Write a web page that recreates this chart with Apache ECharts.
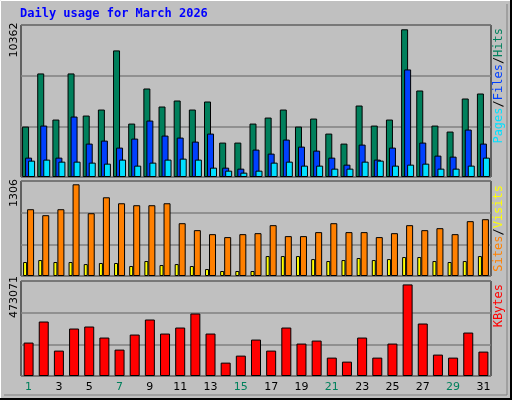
<!DOCTYPE html>
<html><head><meta charset="utf-8">
<script src="https://cdn.jsdelivr.net/npm/echarts@6/dist/echarts.min.js"></script>
<style>html,body{margin:0;padding:0;background:#c0c0c0}#c{width:512px;height:400px}</style>
</head><body><div id="c"></div>
<script>
const days = Array.from({length:31},(_,i)=>String(i+1));
const weekend = ['1','7','8','14','15','21','22','28','29'];
const hits = [3537,7265,4030,7265,4311,4733,8881,3749,6210,4944,5366,4733,5296,2414,2414,3749,4171,4733,3537,4100,3046,2343,5015,3608,4030,10362,6069,3608,3187,5507,5858];
const files = [1359,3608,1359,4241,2343,2554,2062,2695,3960,2906,2765,2484,3046,656,586,1922,1640,2625,2132,1851,1359,867,2273,1219,2062,7546,2414,1500,1429,3328,2343];
const pages = [1148,1219,1077,1077,1008,937,1219,797,1008,1219,1289,1219,656,445,305,445,1008,1077,797,797,586,586,1077,1148,797,867,937,586,586,797,1359];
const visits = [951,866,951,1306,894,1121,1036,1008,1008,1036,752,653,596,554,596,610,724,568,568,625,752,625,625,554,610,724,653,681,596,781,809];
const sites = [199,227,199,199,170,185,185,142,213,156,170,142,99,71,71,71,284,284,284,241,213,227,256,227,241,270,270,213,199,213,284];
const kbytes = [172650,281420,131214,245163,255522,198548,136394,214086,291779,219266,250343,322856,219266,69060,105317,188189,131214,250343,167471,183009,94958,74240,198548,94958,167471,473071,271061,110496,94958,224445,126035];
const maxLabels = ['10362','1306','473071'];

const chart = echarts.init(document.getElementById('c'));
const L=21, R=21;
const grids=[{left:L,right:R,top:25,height:152},{left:L,right:R,top:181,height:95},{left:L,right:R,top:281,height:95}];
const ymax=[10664,1353,490700];
const st={borderColor:'#000',borderWidth:1};
function xa(i){return {type:'category',gridIndex:i,data:days,axisLine:{show:false},axisTick:{show:false},
 axisLabel:{show:i===2,margin:6,fontFamily:'DejaVu Sans',fontSize:11,color:(v)=>weekend.includes(v)?'#00805c':'#000'}};}
function ya(i){return {type:'value',gridIndex:i,min:0,max:ymax[i],interval:ymax[i]/3,axisLabel:{show:false},axisLine:{show:false},axisTick:{show:false},splitLine:{show:true,lineStyle:{color:'#808080',width:1.5}}};}
const rot = (x,y,parts)=>({type:'text',x:x,y:y,rotation:Math.PI/2,style:{text:parts.map(p=>'{'+p[1]+'|'+p[0]+'}').join(''),
  font:'12px DejaVu Sans Mono',align:'right',verticalAlign:'middle',
  rich:{g:{fill:'#00805c',font:'12px DejaVu Sans Mono'},b:{fill:'#0040ff',font:'12px DejaVu Sans Mono'},c:{fill:'#00e0ff',font:'12px DejaVu Sans Mono'},k:{fill:'#000',font:'12px DejaVu Sans Mono'},o:{fill:'#ff8000',font:'12px DejaVu Sans Mono'},y:{fill:'#ffff00',font:'12px DejaVu Sans Mono'},r:{fill:'#ff0000',font:'12px DejaVu Sans Mono'}}}});
chart.setOption({
 backgroundColor:'#c0c0c0', animation:false,
 grid:grids.map(g=>Object.assign({show:true,borderColor:'#000',borderWidth:1,backgroundColor:'transparent'},g)),
 xAxis:[xa(0),xa(1),xa(2)], yAxis:[ya(0),ya(1),ya(2)],
 series:[
  {type:'bar',xAxisIndex:0,yAxisIndex:0,data:hits,barWidth:7,barGap:'-57%',itemStyle:Object.assign({color:'#00805c'},st)},
  {type:'bar',xAxisIndex:0,yAxisIndex:0,data:files,barWidth:7,barGap:'-57%',itemStyle:Object.assign({color:'#0040ff'},st)},
  {type:'bar',xAxisIndex:0,yAxisIndex:0,data:pages,barWidth:7,barGap:'-57%',itemStyle:Object.assign({color:'#00e0ff'},st)},
  {type:'bar',xAxisIndex:1,yAxisIndex:1,data:sites,barWidth:4,barGap:'0%',itemStyle:Object.assign({color:'#ffff00'},st)},
  {type:'bar',xAxisIndex:1,yAxisIndex:1,data:visits,barWidth:7,barGap:'0%',itemStyle:Object.assign({color:'#ff8000'},st)},
  {type:'bar',xAxisIndex:2,yAxisIndex:2,data:kbytes,barWidth:10,itemStyle:Object.assign({color:'#ff0000'},st)}
 ],
 graphic:[
  {type:'rect',shape:{x:0.5,y:0.5,width:510,height:398},style:{fill:null,stroke:'#fff',lineWidth:1},z:-1},
  {type:'polyline',shape:{points:[[511,0],[511,399],[0,399]]},style:{stroke:'#000',lineWidth:2,fill:null}},
  {type:'polyline',shape:{points:[[507,4],[507,395],[4,395]]},style:{stroke:'#808080',lineWidth:1,fill:null}},
  {type:'text',x:20,y:8,style:{text:'Daily usage for March 2026',font:'bold 12px DejaVu Sans Mono',fill:'#0000ff'}},
  {type:'text',x:14,y:40,rotation:Math.PI/2,style:{text:maxLabels[0],font:'11px DejaVu Sans',fill:'#000',align:'center',verticalAlign:'middle'}},
  {type:'text',x:14,y:193,rotation:Math.PI/2,style:{text:maxLabels[1],font:'11px DejaVu Sans',fill:'#000',align:'center',verticalAlign:'middle'}},
  {type:'text',x:14,y:297,rotation:Math.PI/2,style:{text:maxLabels[2],font:'11px DejaVu Sans',fill:'#000',align:'center',verticalAlign:'middle'}},
  rot(499,28,[['Pages','c'],['/','k'],['Files','b'],['/','k'],['Hits','g']]),
  rot(499,185,[['Sites','o'],['/','k'],['Visits','y']]),
  rot(499,284,[['KBytes','r']])
 ]
});
</script></body></html>
